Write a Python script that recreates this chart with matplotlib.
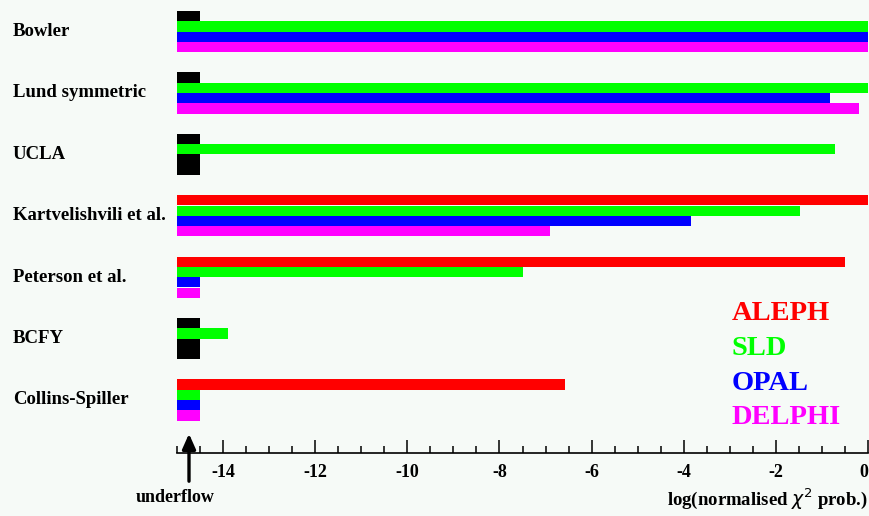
import numpy as np
import matplotlib
matplotlib.use("Agg")
import matplotlib.pyplot as plt
from matplotlib.transforms import blended_transform_factory
from matplotlib.ticker import MultipleLocator

# log(normalised chi^2 prob.) per model and experiment
# nan -> not available (drawn black), UNDER -> underflow
UNDER = -14.5
nan = np.nan
models = ["Bowler", "Lund symmetric", "UCLA", "Kartvelishvili et al.",
          "Peterson et al.", "BCFY", "Collins-Spiller"]
aleph = [nan, nan, nan, 0.0, -0.49, nan, -6.57]
sld = [0.0, 0.0, -0.72, -1.48, -7.5, -13.9, UNDER]
opal = [0.0, -0.83, nan, -3.85, UNDER, nan, UNDER]
delphi = [0.0, -0.2, nan, -6.9, UNDER, nan, UNDER]
experiments = ["ALEPH", "SLD", "OPAL", "DELPHI"]
colors = ["#ff0000", "#00ff00", "#0000ff", "#ff00ff"]

XMIN, XMAX = -15.0, 0.0
BG = "#f6faf7"
FONT = "Liberation Serif"

W, H = 870, 516
fig = plt.figure(figsize=(W / 100, H / 100), dpi=100, facecolor=BG)
ax = fig.add_axes([177 / W, (H - 453) / H, (868 - 177) / W, 453 / H])
ax.set_facecolor(BG)

bh = 10.3 / 61.4  # bar height relative to group step
series = [aleph, sld, opal, delphi]
for j, (vals, col) in enumerate(zip(series, colors)):
    for i, v in enumerate(vals):
        yc = i + (j + 0.5) * bh
        if np.isnan(v):
            ax.barh(yc, UNDER - XMIN, left=XMIN, height=bh, color="black", linewidth=0)
        else:
            ax.barh(yc, v - XMIN, left=XMIN, height=bh, color=col, linewidth=0)

ax.set_xlim(XMIN, XMAX)
ax.set_ylim((453 - 11) / 61.4, -11 / 61.4)
for s in ["left", "top", "right"]:
    ax.spines[s].set_visible(False)
ax.spines["bottom"].set_linewidth(1.2)
ax.set_yticks([])
ax.xaxis.set_major_locator(MultipleLocator(2))
ax.xaxis.set_minor_locator(MultipleLocator(0.5))
ax.tick_params(axis="x", which="major", direction="in", length=9.5, width=1.1, pad=8)
ax.tick_params(axis="x", which="minor", direction="in", length=5, width=1.1)
ticks = np.arange(-14, 1, 2)
ax.set_xticks(ticks)
labels = ax.set_xticklabels([f"{t:d}" if t else "0" for t in ticks],
                            fontfamily=FONT, fontweight="bold", fontsize=13)
labels[-1].set_horizontalalignment("right")

# model names on the left
trans = blended_transform_factory(fig.transFigure, ax.transData)
for i, name in enumerate(models):
    ax.text(13 / W, i + 2 * bh, name, transform=trans, ha="left", va="center",
            fontfamily=FONT, fontweight="bold", fontsize=13.5, clip_on=False)

# legend as coloured text
for j, (name, col) in enumerate(zip(experiments, colors)):
    fig.text(732 / W, 1 - (314 + j * 34.5) / H, name, color=col, ha="left",
             va="center", fontfamily=FONT, fontweight="bold", fontsize=20.5)

# underflow arrow
ax.annotate("", xy=(189 / W, 1 - 431 / H), xytext=(189 / W, 1 - 484 / H),
            xycoords="figure fraction", textcoords="figure fraction",
            arrowprops=dict(arrowstyle="-|>,head_length=0.9,head_width=0.4",
                            color="black", lw=2.4))
fig.text(175 / W, 1 - 497 / H, "underflow", ha="center", va="center",
         fontfamily=FONT, fontweight="bold", fontsize=13)

fig.text(868 / W, 1 - 499 / H, r"log(normalised $\chi^2$ prob.)", ha="right",
         va="center", fontfamily=FONT, fontweight="bold", fontsize=13.5)

fig.savefig("out.png", dpi=100, facecolor=BG)
